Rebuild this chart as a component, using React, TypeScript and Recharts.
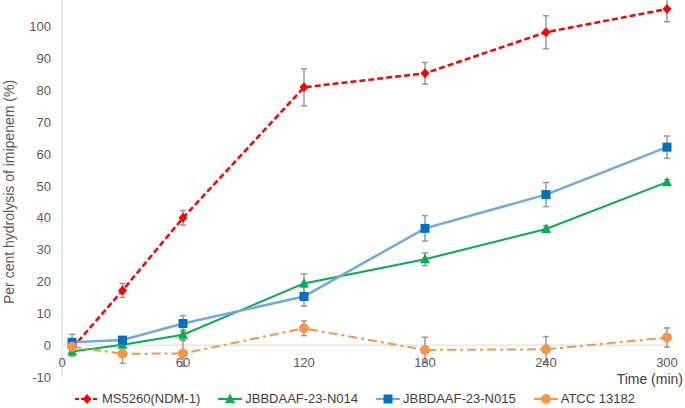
import React from "react";
import { LineChart, Line, XAxis, YAxis, ReferenceLine, ErrorBar, Legend } from "recharts";

// sampling times (min)
const times = [5, 30, 60, 120, 180, 240, 300];

const ms5260 = [-1, 17.2, 40, 81, 85.4, 98.3, 105.6];
const ms5260Err = [0, 2.2, 2.3, 5.8, 3.4, 5.2, 4];
const n014 = [-2, 0.1, 3.3, 19.4, 27, 36.5, 51.2];
const n014Err = [1.5, 0.8, 1.5, 3, 2, 1, 0.8];
const n015 = [0.9, 1.6, 6.8, 15.3, 36.7, 47.3, 62.2];
const n015Err = [2.5, 1, 2.5, 3, 4, 3.8, 3.5];
const atcc = [-0.5, -2.7, -2.6, 5.3, -1.5, -1.3, 2.4];
const atccErr = [1.5, 3, 4, 2.3, 4, 4, 3];

const xTicks = [0, 60, 120, 180, 240, 300];
const yTicks = [-10, 0, 10, 20, 30, 40, 50, 60, 70, 80, 90, 100];

const seriesNames = ["MS5260(NDM-1)", "JBBDAAF-23-N014", "JBBDAAF-23-N015", "ATCC 13182"];

const data = times.map((t, i) => ({
  t,
  ms: ms5260[i],
  msErr: ms5260Err[i],
  n014: n014[i],
  n014Err: n014Err[i],
  n015: n015[i],
  n015Err: n015Err[i],
  atcc: atcc[i],
  atccErr: atccErr[i],
}));

const FONT = "'Liberation Sans', Arial, sans-serif";
const TEXT = "#595959";

const RED = "#ff0000";
const GREEN = "#00b050";
const BLUE_LINE = "#72aadf";
const BLUE = "#0070c0";
const ORANGE = "#f79646";
const ERR = "#9a9a9a";

type Marker = "diamond" | "triangle" | "square" | "circle";

function MarkerShape({ kind, cx, cy, fill }: { kind: Marker; cx: number; cy: number; fill: string }) {
  if (kind === "diamond")
    return <polygon points={`${cx},${cy - 5} ${cx + 4.5},${cy} ${cx},${cy + 5} ${cx - 4.5},${cy}`} fill={fill} />;
  if (kind === "triangle")
    return <polygon points={`${cx},${cy - 5.5} ${cx + 5},${cy + 4} ${cx - 5},${cy + 4}`} fill={fill} />;
  if (kind === "square") return <rect x={cx - 4.5} y={cy - 4.5} width={9} height={9} fill={fill} />;
  return <circle cx={cx} cy={cy} r={5} fill={fill} />;
}

const dotFor = (kind: Marker, fill: string) => (props: any) =>
  <MarkerShape key={`${kind}-${props.index}`} kind={kind} cx={props.cx} cy={props.cy} fill={fill} />;

const legendItems: { name: string; kind: Marker; line: string; fill: string; dash?: string }[] = [
  { name: seriesNames[0], kind: "diamond", line: RED, fill: RED, dash: "4 2" },
  { name: seriesNames[1], kind: "triangle", line: GREEN, fill: GREEN },
  { name: seriesNames[2], kind: "square", line: BLUE_LINE, fill: BLUE },
  { name: seriesNames[3], kind: "circle", line: ORANGE, fill: ORANGE },
];

function LegendContent() {
  return (
    <div style={{ display: "flex", gap: 18, fontFamily: FONT, fontSize: 13, color: "#404040" }}>
      {legendItems.map((it) => (
        <div key={it.name} style={{ display: "flex", alignItems: "center", gap: 3 }}>
          <svg width={24} height={12}>
            <line x1={0} y1={6} x2={24} y2={6} stroke={it.line} strokeWidth={2} strokeDasharray={it.dash} />
            <MarkerShape kind={it.kind} cx={12} cy={6} fill={it.fill} />
          </svg>
          <span>{it.name}</span>
        </div>
      ))}
    </div>
  );
}

function XTick({ x, y, payload }: any) {
  return (
    <text x={x} y={y - 10} textAnchor="middle" fill={TEXT} fontSize={13} fontFamily={FONT}>
      {payload.value}
    </text>
  );
}

export default function App() {
  return (
    <div style={{ position: "absolute", left: 0, top: 0, width: 685, height: 408, background: "#fff" }}>
      <LineChart width={685} height={408} data={data} margin={{ top: -5, right: 18, bottom: 0, left: 0 }}>
        <XAxis
          dataKey="t"
          type="number"
          domain={[0, 300]}
          ticks={xTicks}
          axisLine={false}
          tickLine={false}
          tickSize={0}
          tickMargin={0}
          height={31}
          tick={<XTick />}
          interval={0}
        />
        <YAxis
          domain={[-10, 110]}
          ticks={yTicks}
          width={62}
          axisLine={{ stroke: "#d9d9d9" }}
          tickLine={false}
          tickSize={0}
          tickMargin={11}
          interval={0}
          tick={{ fill: TEXT, fontSize: 13, fontFamily: FONT }}
          label={{
            content: () => (
              <text
                x={14}
                y={192}
                transform="rotate(-90, 14, 192)"
                textAnchor="middle"
                fill={TEXT}
                fontSize={14}
                fontFamily={FONT}
              >
                Per cent hydrolysis of imipenem (%)
              </text>
            ),
          }}
        />
        <ReferenceLine y={0} stroke="#d9d9d9" strokeWidth={1} />
        <Line
          dataKey="ms"
          name={seriesNames[0]}
          stroke={RED}
          strokeWidth={2.5}
          strokeDasharray="6 3"
          dot={dotFor("diamond", RED)}
          isAnimationActive={false}
        >
          <ErrorBar dataKey="msErr" direction="y" width={3} stroke={ERR} strokeWidth={1.5} />
        </Line>
        <Line
          dataKey="n014"
          name={seriesNames[1]}
          stroke={GREEN}
          strokeWidth={2}
          dot={dotFor("triangle", GREEN)}
          isAnimationActive={false}
        >
          <ErrorBar dataKey="n014Err" direction="y" width={3} stroke={ERR} strokeWidth={1.5} />
        </Line>
        <Line
          dataKey="n015"
          name={seriesNames[2]}
          stroke={BLUE_LINE}
          strokeWidth={2.5}
          dot={dotFor("square", BLUE)}
          isAnimationActive={false}
        >
          <ErrorBar dataKey="n015Err" direction="y" width={3} stroke={ERR} strokeWidth={1.5} />
        </Line>
        <Line
          dataKey="atcc"
          name={seriesNames[3]}
          stroke={ORANGE}
          strokeWidth={2}
          strokeDasharray="9 4 3 4"
          dot={dotFor("circle", ORANGE)}
          isAnimationActive={false}
        >
          <ErrorBar dataKey="atccErr" direction="y" width={3} stroke={ERR} strokeWidth={1.5} />
        </Line>
        <text x={683} y={384} textAnchor="end" fill="#404040" fontSize={14} fontFamily={FONT}>
          Time (min)
        </text>
        <Legend
          layout="horizontal"
          verticalAlign="middle"
          align="center"
          content={<LegendContent />}
          wrapperStyle={{ top: 391, left: 75, width: 620, height: 18 }}
        />
      </LineChart>
    </div>
  );
}
